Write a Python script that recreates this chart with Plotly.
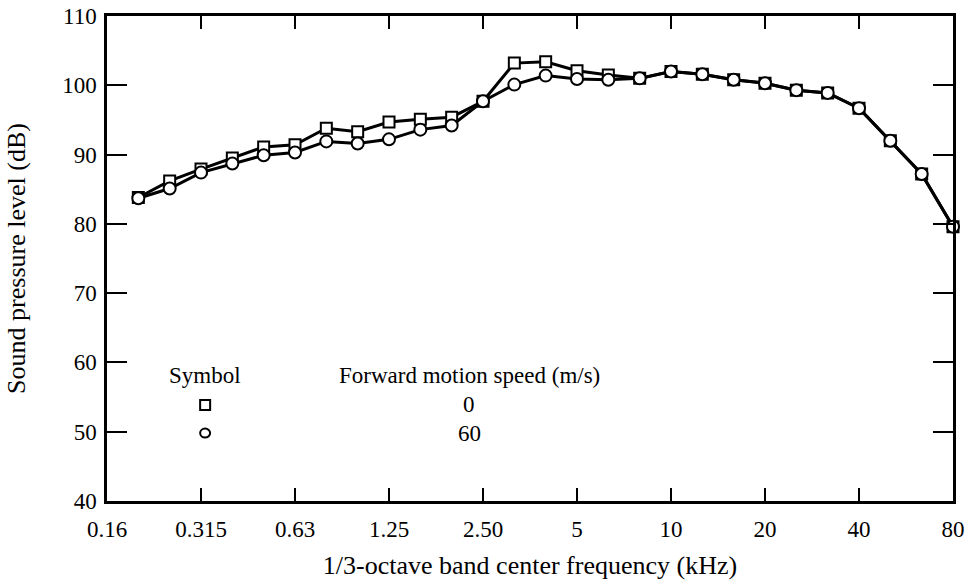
import plotly.graph_objects as go

# 1/3-octave band centers (kHz), 0.16 .. 80
bands = ["0.16", "0.2", "0.25", "0.315", "0.4", "0.5", "0.63", "0.8", "1.0",
         "1.25", "1.6", "2.0", "2.50", "3.15", "4", "5", "6.3", "8", "10",
         "12.5", "16", "20", "25", "31.5", "40", "50", "63", "80"]
tick_labels = ["0.16", "0.315", "0.63", "1.25", "2.50", "5", "10", "20", "40", "80"]

# measured bands (0.2 .. 80 kHz)
measured = bands[1:]

# forward motion speed 0 m/s (squares)
spl_0 = [83.8, 86.2, 87.9, 89.5, 91.1, 91.4, 93.8, 93.3, 94.7, 95.1, 95.4, 97.7,
         103.2, 103.4, 102.1, 101.5, 101.0, 102.0, 101.6, 100.8, 100.3, 99.3,
         98.9, 96.7, 92.0, 87.2, 79.6]
# forward motion speed 60 m/s (circles)
spl_60 = [83.7, 85.1, 87.4, 88.7, 89.9, 90.3, 91.9, 91.6, 92.2, 93.6, 94.2, 97.7,
          100.1, 101.4, 100.9, 100.8, 101.0, 102.0, 101.6, 100.8, 100.3, 99.3,
          98.9, 96.7, 92.0, 87.2, 79.6]

xpos = [bands.index(b) for b in measured]
tickpos = [bands.index(t) for t in tick_labels]

FONT = "Liberation Serif, Times New Roman, serif"

fig = go.Figure()
fig.add_trace(go.Scatter(
    x=xpos, y=spl_0, mode="lines+markers", cliponaxis=False,
    line=dict(color="black", width=3),
    marker=dict(symbol="square", size=11, color="white",
                line=dict(color="black", width=2)),
))
fig.add_trace(go.Scatter(
    x=xpos, y=spl_60, mode="lines+markers", cliponaxis=False,
    line=dict(color="black", width=3),
    marker=dict(symbol="circle", size=12, color="white",
                line=dict(color="black", width=2)),
))

fig.update_xaxes(
    range=[0, len(bands) - 1], tickvals=tickpos, ticktext=tick_labels,
    showline=True, linecolor="black", linewidth=2.5, mirror="ticks",
    ticks="inside", ticklen=13, tickwidth=2, tickcolor="black",
    showgrid=False, zeroline=False, automargin=False, ticklabelstandoff=6,
    tickfont=dict(family=FONT, size=23, color="black"),
    title=dict(text="1/3-octave band center frequency (kHz)",
               font=dict(family=FONT, size=26, color="black"), standoff=15),
)
fig.update_yaxes(
    range=[40, 110], dtick=10, tick0=40,
    showline=True, linecolor="black", linewidth=2.5, mirror="ticks",
    ticks="inside", ticklen=20, tickwidth=2, tickcolor="black",
    showgrid=False, zeroline=False, automargin=False, ticklabelstandoff=3,
    tickfont=dict(family=FONT, size=23, color="black"),
    title=dict(text="Sound pressure level (dB)",
               font=dict(family=FONT, size=26, color="black"), standoff=30),
)

# legend block drawn as text + symbols
lx = 0.116
row_head, row_0, row_60 = 0.258, 0.198, 0.140
ann = dict(xref="paper", yref="paper", showarrow=False,
           xanchor="center", yanchor="middle",
           font=dict(family=FONT, size=23, color="black"))
fig.add_annotation(x=lx, y=row_head, text="Symbol", **ann)
fig.add_annotation(x=0.428, y=row_head, text="Forward motion speed (m/s)", **ann)
fig.add_annotation(x=0.428, y=row_0, text="0", **ann)
fig.add_annotation(x=0.429, y=row_60, text="60", **ann)
fig.add_shape(type="rect", xref="paper", yref="paper",
              xsizemode="pixel", ysizemode="pixel", xanchor=lx, yanchor=row_0,
              x0=-5, x1=5, y0=-5, y1=5, line=dict(color="black", width=2))
fig.add_shape(type="circle", xref="paper", yref="paper",
              xsizemode="pixel", ysizemode="pixel", xanchor=lx, yanchor=row_60,
              x0=-5, x1=5, y0=-4.5, y1=4.5, line=dict(color="black", width=2))

fig.update_layout(
    width=971, height=586,
    margin=dict(l=107, r=18, t=16, b=85),
    plot_bgcolor="white", paper_bgcolor="white",
    showlegend=False,
)

# drop the page's default body margin so the figure sits at the window corner
fig.write_html("out.html", config={"displayModeBar": False},
               post_script="document.body.style.margin='0';")
